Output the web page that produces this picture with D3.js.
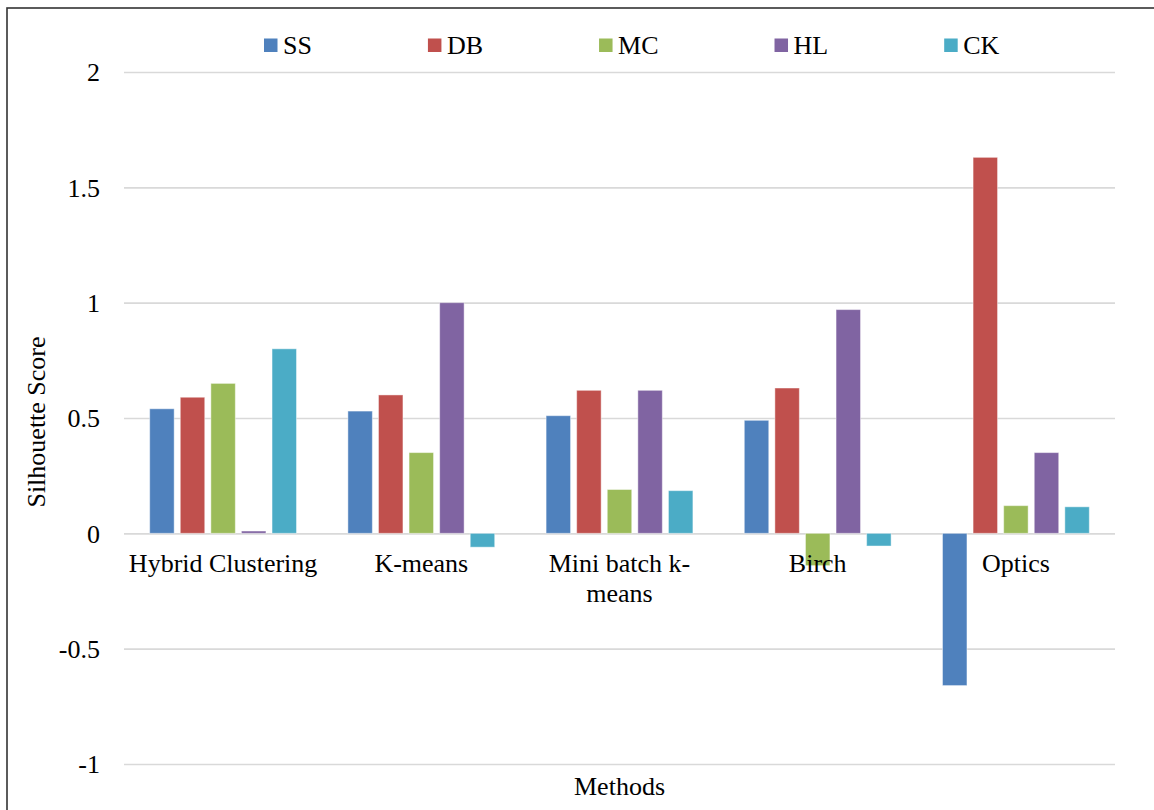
<!DOCTYPE html>
<html>
<head>
<meta charset="utf-8">
<script src="https://cdn.jsdelivr.net/npm/d3@7"></script>
<style>
  html, body { margin: 0; padding: 0; background: #fff; }
  svg { display: block; }
  text { font-family: "Liberation Serif", "Times New Roman", serif; fill: #000; }
</style>
</head>
<body>
<svg id="chart" width="1154" height="810"></svg>
<script>
// Clustering methods compared on five validity indices
const methods = ["Hybrid Clustering", "K-means", "Mini batch k-means", "Birch", "Optics"];
const seriesNames = ["SS", "DB", "MC", "HL", "CK"];
const seriesColors = ["#4F81BD", "#C0504D", "#9BBB59", "#8064A2", "#4BACC6"];

// one array per index, in method order
const ssValues = [0.54, 0.53, 0.51, 0.49, -0.66];
const dbValues = [0.59, 0.60, 0.62, 0.63, 1.63];
const mcValues = [0.65, 0.35, 0.19, -0.14, 0.12];
const hlValues = [0.01, 1.00, 0.62, 0.97, 0.35];
const ckValues = [0.80, -0.06, 0.185, -0.055, 0.115];

const yTicks = [-1, -0.5, 0, 0.5, 1, 1.5, 2];
const yTitle = "Silhouette Score";
const xTitle = "Methods";

const seriesValues = [ssValues, dbValues, mcValues, hlValues, ckValues];
const rows = methods.map((m, i) => {
  const r = { method: m };
  seriesNames.forEach((s, j) => { r[s] = seriesValues[j][i]; });
  return r;
});

const svg = d3.select("#chart");
const plot = { left: 124, right: 1115, top: 72, bottom: 764 };

// outer chart frame
svg.append("rect")
  .attr("x", 7).attr("y", 8)
  .attr("width", 1170).attr("height", 830)
  .attr("fill", "#fff")
  .attr("stroke", "#333").attr("stroke-width", 1.6);

const y = d3.scaleLinear().domain([-1, 2]).range([plot.bottom, plot.top]);
const x0 = d3.scaleBand().domain(methods).range([plot.left, plot.right]).padding(0);
const x1 = d3.scaleBand().domain(seriesNames).range([0, x0.bandwidth()])
  .paddingInner(0.2).paddingOuter(0.84);

// horizontal gridlines and value labels (plain hyphen for negatives)
const fmt = d3.format("~g");
const yAxis = d3.axisLeft(y).tickValues(yTicks)
  .tickSize(-(plot.right - plot.left))
  .tickFormat(d => fmt(d).replace("\u2212", "-"));
const gy = svg.append("g")
  .attr("transform", `translate(${plot.left},0)`)
  .call(yAxis);
gy.select(".domain").remove();
gy.selectAll(".tick line").attr("stroke", "#d9d9d9").attr("stroke-width", 1.6);
gy.selectAll(".tick text")
  .attr("x", -24)
  .attr("dy", "0.34em")
  .style("font-family", "'Liberation Serif', 'Times New Roman', serif")
  .style("font-size", "26px")
  .attr("fill", "#000");

// bars
const groups = svg.append("g").selectAll("g")
  .data(rows)
  .join("g")
  .attr("transform", d => `translate(${x0(d.method)},0)`);

groups.selectAll("rect")
  .data(d => seriesNames.map((s, j) => ({ key: s, value: d[s], color: seriesColors[j] })))
  .join("rect")
  .attr("x", d => x1(d.key))
  .attr("width", x1.bandwidth())
  .attr("y", d => y(Math.max(0, d.value)))
  .attr("height", d => Math.abs(y(d.value) - y(0)))
  .attr("fill", d => d.color)
  .attr("stroke", "#ffffff")
  .attr("stroke-opacity", 0.45)
  .attr("stroke-width", 1);

// category labels, wrapped to the band width (breaks after spaces and hyphens)
const xAxis = d3.axisBottom(x0).tickSize(0).tickPadding(0);
const gx = svg.append("g")
  .attr("transform", `translate(0,${y(0)})`)
  .call(xAxis);
gx.select(".domain").remove();
gx.selectAll(".tick text")
  .style("font-family", "'Liberation Serif', 'Times New Roman', serif")
  .style("font-size", "26px")
  .attr("fill", "#000")
  .attr("y", 39)
  .attr("dy", 0)
  .each(function (d) {
    const t = d3.select(this);
    const maxW = x0.bandwidth();
    const tokens = d.match(/[^\s-]+-?|\s+/g).filter(s => s.trim().length);
    const joinTok = (a, b) => (a.endsWith("-") ? a + b : a + " " + b);
    t.text(null);
    let line = "";
    let tspan = t.append("tspan").attr("x", 0).attr("dy", 0);
    tokens.forEach(tok => {
      const trial = line ? joinTok(line, tok) : tok;
      tspan.text(trial);
      if (tspan.node().getComputedTextLength() > maxW && line) {
        tspan.text(line);
        line = tok;
        tspan = t.append("tspan").attr("x", 0).attr("dy", 30).text(tok);
      } else {
        line = trial;
      }
    });
  });

// axis titles
svg.append("text")
  .attr("transform", `translate(45,${(plot.top + plot.bottom) / 2 + 4}) rotate(-90)`)
  .attr("text-anchor", "middle")
  .style("font-size", "26px")
  .text(yTitle);

svg.append("text")
  .attr("x", (plot.left + plot.right) / 2)
  .attr("y", 795)
  .attr("text-anchor", "middle")
  .style("font-size", "26px")
  .text(xTitle);

// legend along the top
const legend = svg.append("g");
let lx = 264;
seriesNames.forEach((s, j) => {
  const item = legend.append("g").attr("transform", `translate(${lx},0)`);
  item.append("rect")
    .attr("x", 0).attr("y", 38.5)
    .attr("width", 13.5).attr("height", 13.5)
    .attr("fill", seriesColors[j]);
  const label = item.append("text")
    .attr("x", 19).attr("y", 53.5)
    .style("font-size", "26px")
    .text(s);
  lx += 19 + label.node().getComputedTextLength() + 116;
});
</script>
</body>
</html>
